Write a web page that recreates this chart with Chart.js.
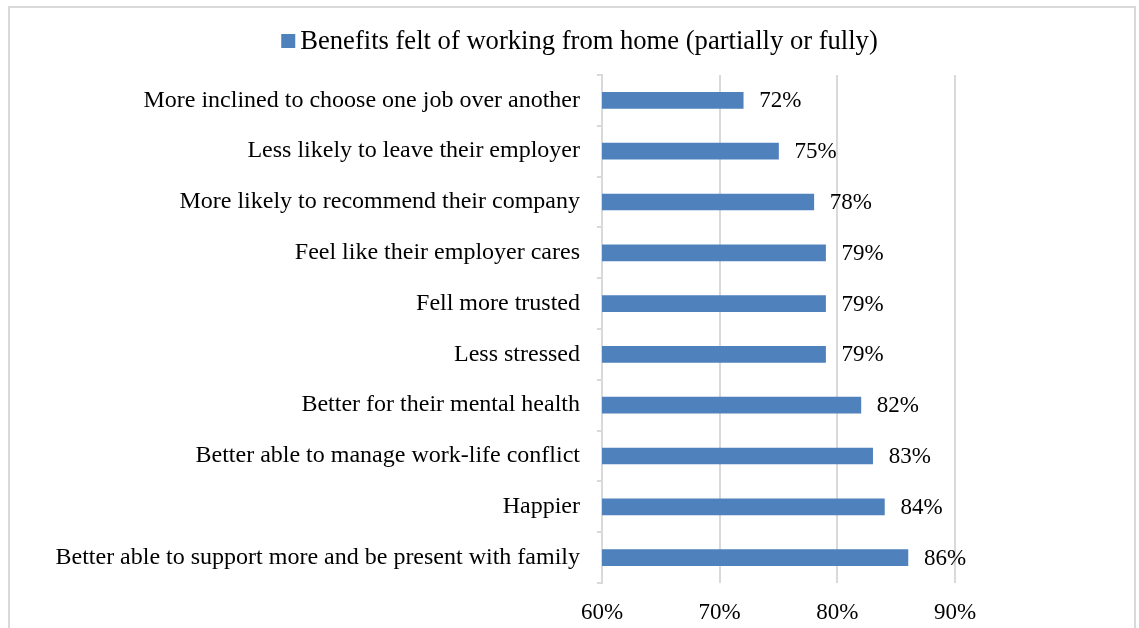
<!DOCTYPE html>
<html>
<head>
<meta charset="utf-8">
<script src="https://cdn.jsdelivr.net/npm/chart.js@4/dist/chart.umd.min.js"></script>
<style>
  html, body { margin: 0; padding: 0; background: #fff; overflow: hidden; }
  #frame {
    position: absolute; left: 8px; top: 6px; width: 1128px; height: 700px;
    border: 2px solid #d9d9d9; box-sizing: border-box;
  }
  #wrap { position: absolute; left: 0; top: 0; width: 1139px; height: 628px; }
</style>
</head>
<body>
<div id="frame"></div>
<div id="wrap"><canvas id="benefitsChart"></canvas></div>
<script>
const benefits = [
    "More inclined to choose one job over another",
    "Less likely to leave their employer",
    "More likely to recommend their company",
    "Feel like their employer cares",
    "Fell more trusted",
    "Less stressed",
    "Better for their mental health",
    "Better able to manage work-life conflict",
    "Happier",
    "Better able to support more and be present with family"
];
const shares = [72, 75, 78, 79, 79, 79, 82, 83, 84, 86];
const seriesName = "Benefits felt of working from home (partially or fully)";

const serif = "'Liberation Serif', 'Times New Roman', serif";
const barBlue = "#4f81bd";
const gridGray = "#d9d9d9";

// writes the percentage just past the end of each bar
const valueLabels = {
    id: "valueLabels",
    afterDatasetsDraw(chart) {
        const ctx = chart.ctx;
        const meta = chart.getDatasetMeta(0);
        ctx.save();
        ctx.font = "23px " + serif;
        ctx.fillStyle = "#000";
        ctx.textAlign = "left";
        ctx.textBaseline = "middle";
        meta.data.forEach((bar, i) => {
            ctx.fillText(shares[i] + "%", bar.x + 16, bar.y + 1);
        });
        ctx.restore();
    }
};

// single-entry legend: small square with a tight gap before the text
const topLegend = {
    id: "topLegend",
    afterDraw(chart) {
        const ctx = chart.ctx;
        const ds = chart.data.datasets[0];
        ctx.save();
        ctx.font = "26.6px " + serif;
        const textW = ctx.measureText(ds.label).width;
        const box = 14, gap = 5;
        const total = box + gap + textW;
        const x0 = chart.width / 2 + 10 - total / 2;
        const cy = 41;
        ctx.fillStyle = ds.backgroundColor;
        ctx.fillRect(x0, cy - box / 2, box, box);
        ctx.fillStyle = "#000";
        ctx.textAlign = "left";
        ctx.textBaseline = "middle";
        ctx.fillText(ds.label, x0 + box + gap, cy + 1);
        ctx.restore();
    }
};

new Chart(document.getElementById("benefitsChart"), {
    type: "bar",
    data: {
        labels: benefits,
        datasets: [{
            label: seriesName,
            data: shares,
            backgroundColor: barBlue,
            borderWidth: 0,
            barThickness: 16
        }]
    },
    options: {
        indexAxis: "y",
        responsive: true,
        maintainAspectRatio: false,
        animation: false,
        layout: { padding: { top: 75, right: 184, left: 0, bottom: 0 } },
        plugins: {
            legend: { display: false },
            tooltip: { enabled: false }
        },
        scales: {
            x: {
                min: 60,
                max: 90,
                ticks: {
                    stepSize: 10,
                    color: "#000",
                    font: { family: serif, size: 23 },
                    padding: 16,
                    callback: v => v + "%"
                },
                grid: { color: gridGray, lineWidth: 2, drawTicks: false },
                border: { display: false },
                afterFit: scale => { scale.height = 45; }
            },
            y: {
                ticks: {
                    color: "#000",
                    font: { family: serif, size: 24 },
                    padding: 17
                },
                grid: {
                    drawOnChartArea: false,
                    drawTicks: true,
                    tickLength: 5,
                    color: gridGray,
                    lineWidth: 2
                },
                border: { display: true, color: gridGray, width: 2 },
                afterFit: scale => { scale.width = 602; }
            }
        }
    },
    plugins: [valueLabels, topLegend]
});
</script>
</body>
</html>
